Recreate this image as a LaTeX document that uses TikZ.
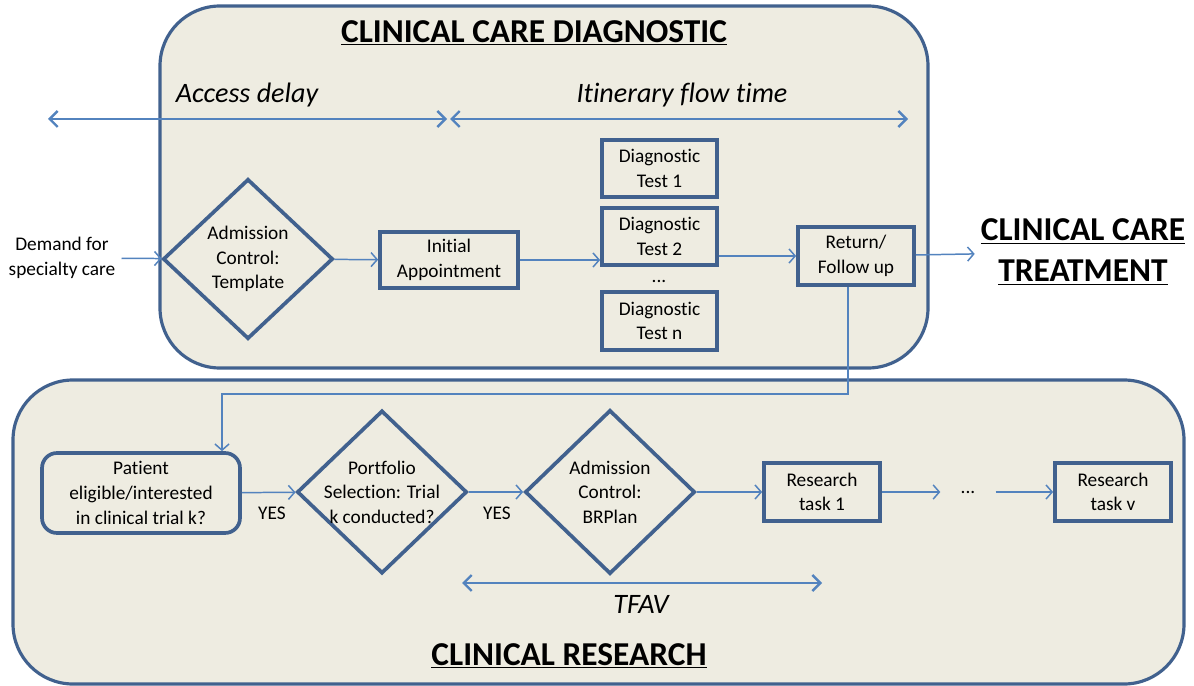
\documentclass[tikz,border=0pt]{standalone}
\usepackage{fontspec}
\setmainfont{Carlito}[Ligatures=NoCommon]
\usetikzlibrary{shapes.geometric,arrows.meta}
\definecolor{panelfill}{HTML}{EEECE1}
\definecolor{panelline}{HTML}{41618E}
\definecolor{flowline}{HTML}{5383BE}

\begin{document}
\begin{tikzpicture}[x=0.02cm, y=-0.02cm,
    panel/.style={draw=panelline, line width=1.8pt, fill=panelfill, rounded corners=1.2cm},
    heading/.style={font=\fontsize{19}{23}\selectfont\bfseries, align=center},
    spanlabel/.style={font=\fontsize{16}{19}\selectfont\itshape},
    body/.style={font=\fontsize{11}{14}\selectfont, align=center},
    task/.style={body, draw=panelline, line width=2.1pt, inner sep=0pt},
    decision/.style={body, diamond, draw=panelline, line width=2.1pt, inner sep=0pt},
    flow/.style={color=flowline, line width=0.85pt, -{Straight Barb[length=3.5pt,width=8pt]}},
    timespan/.style={color=flowline, line width=1.4pt, {Straight Barb[length=4.5pt,width=9pt]}-{Straight Barb[length=4.5pt,width=9pt]}}]
    \useasboundingbox (0,0) rectangle (1194,686);

    % the two panels
    \draw[panel] (160,6) rectangle (928,368);
    \draw[panel] (13,380) rectangle (1184,684);

    \node[heading] at (534,33)(diagtitle){\underline{CLINICAL CARE DIAGNOSTIC}};
    \node[heading] at (569,656)(restitle){\underline{CLINICAL RESEARCH}};
    \node[heading] at (1083,252)(treat){\underline{CLINICAL CARE}\\\underline{TREATMENT}};

    % time spans
    \coordinate (accL) at (48,119);
    \coordinate (accR) at (447,119);
    \coordinate (itiL) at (450,119);
    \coordinate (itiR) at (908,119);
    \coordinate (tfavL) at (462,583);
    \coordinate (tfavR) at (822,583);
    \node[spanlabel] at (247,95)(acclabel){Access delay};
    \node[spanlabel] at (682,95)(itilabel){Itinerary flow time};
    \node[spanlabel] at (641,604)(tfavlabel){TFAV};
    \draw[timespan] (accL) -- (accR);
    \draw[timespan] (itiL) -- (itiR);
    \draw[timespan] (tfavL) -- (tfavR);

    % diagnostic part
    \node[body] at (62,258)(demand){Demand for\\specialty care};
    \node[decision, minimum width=3.4cm, minimum height=3.2cm] at (248,259)(admit){Admission\\Control:\\Template};
    \node[task, minimum width=2.76cm, minimum height=1.12cm] at (449,260)(initial){Initial\\Appointment};
    \node[task, minimum width=2.3cm, minimum height=1.14cm] at (659.5,168.5)(test1){Diagnostic\\Test 1};
    \node[task, minimum width=2.3cm, minimum height=1.14cm] at (659.5,236.5)(test2){Diagnostic\\Test 2};
    \node[body] at (659,281)(testdots){...};
    \node[task, minimum width=2.3cm, minimum height=1.16cm] at (659.5,321)(testn){Diagnostic\\Test n};
    \node[task, minimum width=2.32cm, minimum height=1.16cm] at (856,256)(return){Return/\\Follow up};

    % research part
    \node[task, rounded corners=0.3cm, minimum width=3.96cm, minimum height=1.6cm] at (141,493)(patient){Patient\\eligible/interested\\in clinical trial k?};
    \node[decision, inner sep=-6pt, minimum width=3.4cm, minimum height=3.26cm] at (382,492)(portfolio){Portfolio\\Selection: Trial\\k conducted?};
    \node[decision, minimum width=3.4cm, minimum height=3.28cm] at (610,492)(brplan){Admission\\Control:\\BRPlan};
    \node[task, minimum width=2.32cm, minimum height=1.16cm] at (822,492)(task1){Research\\task 1};
    \node[body, inner xsep=0.4cm, minimum height=0.6cm] at (968,492)(taskdots){...};
    \node[task, minimum width=2.32cm, minimum height=1.16cm] at (1113,492)(taskv){Research\\task v};
    \node[body] at (272,513)(yes1){YES};
    \node[body] at (497,513)(yes2){YES};

    \coordinate (loop) at (222,394);

    \path[flow]
    (demand) edge (admit)
    (admit) edge (initial)
    (initial.east) edge (initial.east -| test2.west)
    (test2.east |- return.west) edge (return.west)
    (return) edge (treat)
    (patient) edge (portfolio)
    (portfolio) edge (brplan)
    (brplan) edge (task1)
    (task1) edge (taskdots)
    (taskdots) edge (taskv)
    ;
    \draw[flow] ([xshift=-0.16cm]return.south) |- (loop) -- (loop |- patient.north);
\end{tikzpicture}
\end{document}
